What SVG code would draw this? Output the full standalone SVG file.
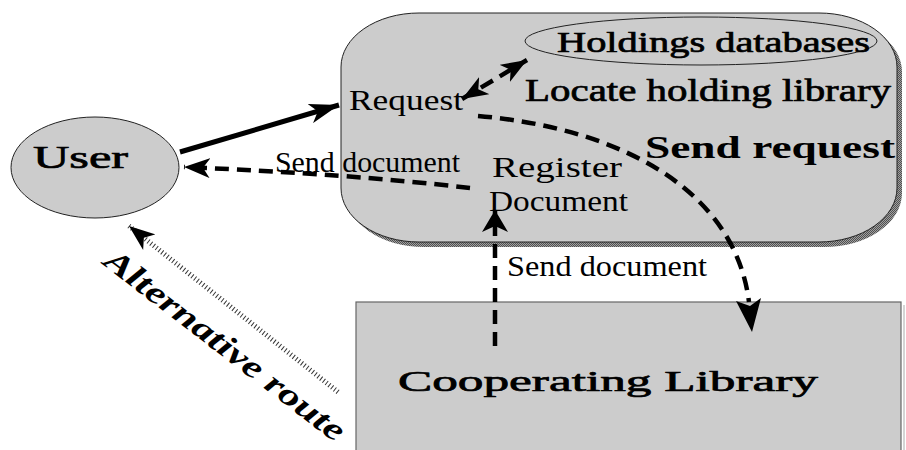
<svg xmlns="http://www.w3.org/2000/svg" width="906" height="450" viewBox="0 0 906 450">
  <style>
    .t { font-family: "Liberation Serif", "Times New Roman", serif; fill: #000; }
    .b { font-weight: bold; }
    .m { stroke: #000; stroke-width: 0.7; }
    .node { fill: #cccccc; }
    .dash { fill: none; stroke: #000; stroke-width: 4.5; stroke-dasharray: 14 8; }
  </style>
  <defs>
    <pattern id="hatch" width="2" height="2" patternUnits="userSpaceOnUse">
      <rect width="2" height="2" fill="#a0a0a0"/>
      <rect width="1" height="1" fill="#505050"/>
      <rect x="1" y="1" width="1" height="1" fill="#505050"/>
    </pattern>
    <marker id="ah" viewBox="0 0 30 20" refX="30" refY="10" markerWidth="30" markerHeight="20" markerUnits="userSpaceOnUse" orient="auto">
      <path d="M0,0 L30,10 L0,20 L8,10 Z" fill="#000"/>
    </marker>
    <marker id="ahs" viewBox="0 0 26 20" refX="26" refY="10" markerWidth="26" markerHeight="20" markerUnits="userSpaceOnUse" orient="auto">
      <path d="M0,0 L26,10 L0,20 L7,10 Z" fill="#000"/>
    </marker>
    <marker id="ahst" viewBox="0 0 26 20" refX="0" refY="10" markerWidth="26" markerHeight="20" markerUnits="userSpaceOnUse" orient="auto">
      <path d="M26,0 L0,10 L26,20 L19,10 Z" fill="#000"/>
    </marker>
    <marker id="ahv" viewBox="0 0 22 26" refX="22" refY="13" markerWidth="22" markerHeight="26" markerUnits="userSpaceOnUse" orient="auto">
      <path d="M0,0 L22,13 L0,26 L6,13 Z" fill="#000"/>
    </marker>
  </defs>

  <g id="system">
    <rect x="346" y="18" width="556" height="229" rx="78" ry="54" fill="url(#hatch)"/>
    <rect class="node" x="341" y="13" width="556" height="229" rx="78" ry="54" stroke="#222" stroke-width="1"/>
  </g>

  <g id="holdings">
    <ellipse cx="701" cy="41" rx="176" ry="24" fill="none" stroke="#222" stroke-width="1"/>
    <text class="t m" x="557" y="52" font-size="30" textLength="313" lengthAdjust="spacingAndGlyphs">Holdings databases</text>
  </g>

  <g id="user">
    <ellipse class="node" cx="95" cy="167.5" rx="84" ry="50.5" stroke="#222" stroke-width="1"/>
    <text class="t m" x="33" y="168" font-size="31" textLength="95" lengthAdjust="spacingAndGlyphs">User</text>
  </g>

  <g id="library">
    <rect class="node" x="356" y="302" width="545" height="170" stroke="#666" stroke-width="1.2"/>
    <line x1="904" y1="305" x2="904" y2="450" stroke="#aaa" stroke-width="1"/>
    <text class="t m" x="398" y="391" font-size="30" textLength="420" lengthAdjust="spacingAndGlyphs">Cooperating Library</text>
  </g>

  <g id="labels">
    <text class="t" x="349" y="110" font-size="29" textLength="114" lengthAdjust="spacingAndGlyphs">Request</text>
    <text class="t m" x="525" y="101" font-size="31" textLength="366" lengthAdjust="spacingAndGlyphs">Locate holding library</text>
    <text class="t b" x="645" y="158" font-size="31" textLength="250" lengthAdjust="spacingAndGlyphs">Send request</text>
    <text class="t" x="492" y="177" font-size="29" textLength="130" lengthAdjust="spacingAndGlyphs">Register</text>
    <text class="t" x="489" y="211" font-size="29" textLength="139" lengthAdjust="spacingAndGlyphs">Document</text>
    <text class="t" x="275" y="172" font-size="29" textLength="185" lengthAdjust="spacingAndGlyphs">Send document</text>
    <text class="t" x="507" y="276" font-size="29" textLength="200" lengthAdjust="spacingAndGlyphs">Send document</text>
    <text class="t b" font-style="italic" font-size="32" transform="translate(102,264) rotate(37.5)" textLength="294" lengthAdjust="spacingAndGlyphs">Alternative route</text>
  </g>

  <g id="connectors">
    <line x1="180" y1="152" x2="339" y2="105" stroke="#000" stroke-width="5" marker-end="url(#ah)"/>
    <path class="dash" d="M470 188 Q350 174 184 167" marker-end="url(#ahs)"/>
    <line class="dash" x1="462" y1="99" x2="527" y2="60" marker-start="url(#ahst)" marker-end="url(#ahs)"/>
    <path class="dash" d="M478 116 C620 128 735 190 749 302"/>
    <path d="M752 332 L761 298 L750 306 L736 301 Z" fill="#000"/>
    <line class="dash" x1="495" y1="346" x2="495" y2="210" stroke-width="6.5" marker-end="url(#ahv)"/>
    <line x1="338" y1="392" x2="129" y2="226" stroke="#333" stroke-width="5" stroke-dasharray="1 2.5" marker-end="url(#ahs)"/>
  </g>
</svg>
